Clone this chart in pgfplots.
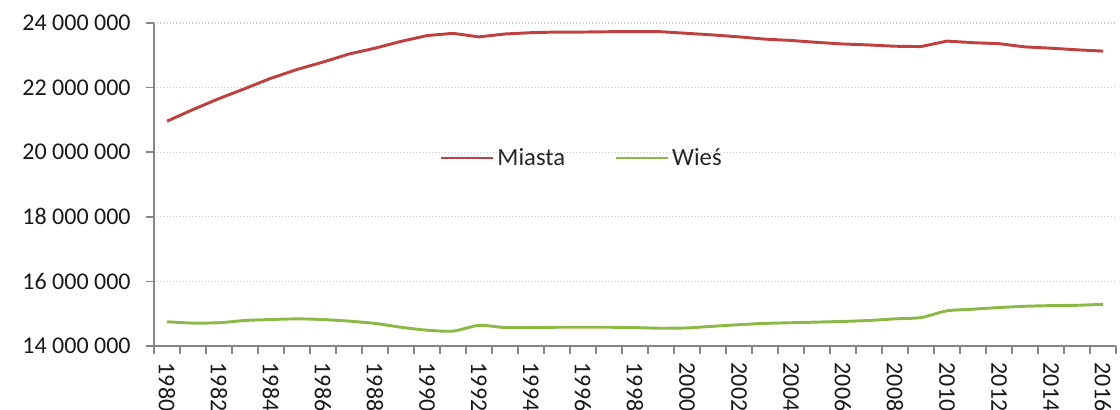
\documentclass[border=0pt]{standalone}
\usepackage{fontspec}
\setmainfont{Carlito}
\usepackage{pgfplots}
\pgfplotsset{compat=1.18}
\definecolor{miasta}{RGB}{192,64,64}
\definecolor{wies}{RGB}{140,185,70}
\definecolor{axgray}{RGB}{134,134,134}
\definecolor{gridgray}{RGB}{200,200,200}
\begin{document}
\begin{tikzpicture}
\begin{axis}[
  at={(0,0)}, anchor=south west,
  scale only axis,
  width=721.5pt, height=242.25pt,
  xmin=1979.5, xmax=2016.5,
  ymin=14000000, ymax=24000000,
  axis x line*=bottom, axis y line*=left,
  axis line style={axgray, line width=1.2pt},
  tick align=outside,
  major tick length=6pt,
  tick style={axgray, line width=1.2pt},
  scaled y ticks=false,
  scaled x ticks=false,
  xtick={1979.5,1980.5,...,2016.6},
  xticklabels={},
  extra x ticks={1980,1982,1984,1986,1988,1990,1992,1994,1996,1998,2000,2002,2004,2006,2008,2010,2012,2014,2016},
  extra x tick labels={1980,1982,1984,1986,1988,1990,1992,1994,1996,1998,2000,2002,2004,2006,2008,2010,2012,2014,2016},
  extra x tick style={grid=none, major tick length=0pt,
    xticklabel shift=9pt,
    xticklabel style={rotate=-90, anchor=west, font=\fontsize{18}{21}\selectfont, text=black!90}},
  ytick={14000000,16000000,18000000,20000000,22000000,24000000},
  yticklabels={14 000 000,16 000 000,18 000 000,20 000 000,22 000 000,24 000 000},
  yticklabel shift=8pt,
  yticklabel style={font=\fontsize{18}{21}\selectfont, text=black!90},
  ymajorgrids,
  grid style={gridgray, dotted, line width=1pt},
  clip=false,
  legend style={draw=none, fill=none, at={(0.445,0.582)}, anchor=center,
    font=\fontsize{18.5}{22}\selectfont, text=black!85,
    /tikz/every even column/.append style={column sep=35pt}},
  legend columns=2,
  legend image code/.code={\draw[#1] (0pt,0pt) -- (39pt,0pt);},
]
\addplot[miasta, line width=2.2pt] coordinates {
(1980,20960000) (1981,21320000) (1982,21660000) (1983,21970000) (1984,22290000)
(1985,22560000) (1986,22790000) (1987,23040000) (1988,23220000) (1989,23430000)
(1990,23610000) (1991,23680000) (1992,23570000) (1993,23660000) (1994,23700000)
(1995,23720000) (1996,23720000) (1997,23730000) (1998,23730000) (1999,23730000)
(2000,23680000) (2001,23630000) (2002,23570000) (2003,23500000) (2004,23460000)
(2005,23400000) (2006,23350000) (2007,23320000) (2008,23280000) (2009,23270000)
(2010,23440000) (2011,23390000) (2012,23360000) (2013,23260000) (2014,23220000)
(2015,23170000) (2016,23130000)
};
\addlegendentry{Miasta}
\addplot[wies, line width=2.2pt, smooth, tension=0.4] coordinates {
(1980,14750000) (1981,14710000) (1982,14720000) (1983,14790000) (1984,14820000)
(1985,14840000) (1986,14820000) (1987,14770000) (1988,14700000) (1989,14580000)
(1990,14490000) (1991,14460000) (1992,14640000) (1993,14570000) (1994,14570000)
(1995,14580000) (1996,14580000) (1997,14580000) (1998,14570000) (1999,14550000)
(2000,14560000) (2001,14610000) (2002,14660000) (2003,14700000) (2004,14720000)
(2005,14740000) (2006,14760000) (2007,14790000) (2008,14840000) (2009,14880000)
(2010,15090000) (2011,15140000) (2012,15190000) (2013,15230000) (2014,15250000)
(2015,15260000) (2016,15290000)
};
\addlegendentry{Wieś}
\end{axis}
\pgfresetboundingbox
\path[use as bounding box] (-115.5pt,-48pt) rectangle (724.5pt,259.5pt);
\end{tikzpicture}
\end{document}
